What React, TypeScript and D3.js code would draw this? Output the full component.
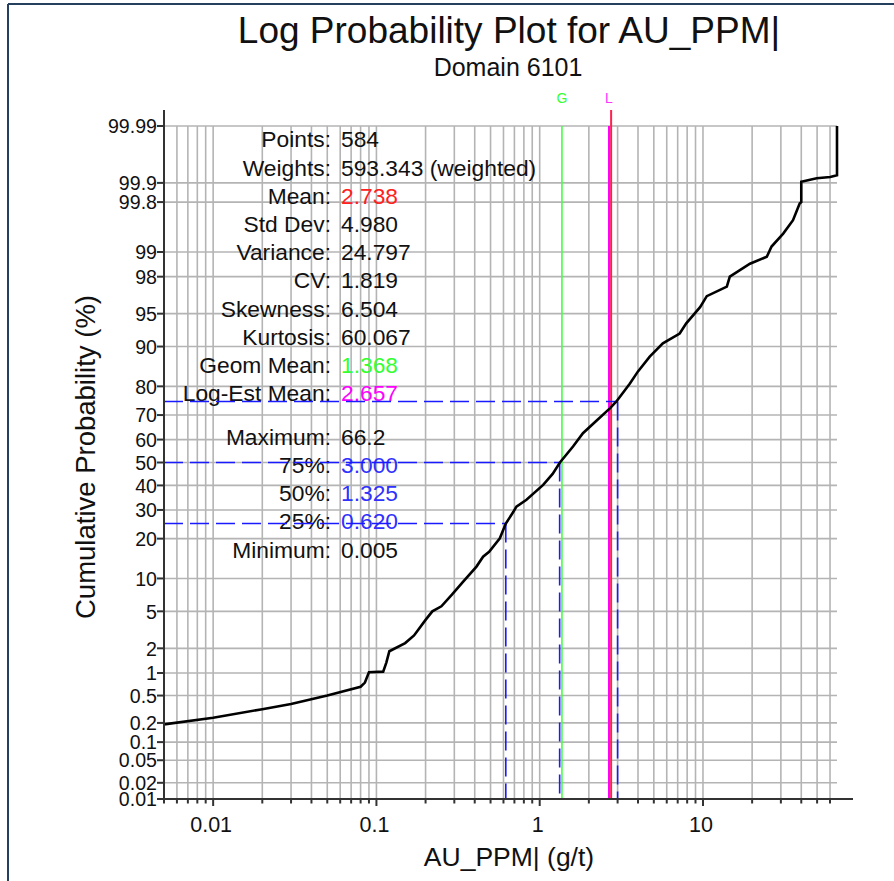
import React from 'react';
import * as d3 from 'd3';

// cumulative curve: grade (g/t) vs cumulative probability (%)
const auValues = [
  0.005, 0.01, 0.02, 0.03, 0.05, 0.08, 0.085, 0.09, 0.11, 0.115, 0.12, 0.15, 0.17, 0.2, 0.22,
  0.25, 0.29, 0.34, 0.41, 0.45, 0.49, 0.57, 0.62, 0.69, 0.72, 0.83, 1.05, 1.2, 1.33, 1.6,
  1.84, 2.2, 2.69, 2.95, 3.56, 4.0, 4.72, 5.68, 7.2, 7.9, 9.6, 10.55, 14.0, 14.6, 19.4,
  24.6, 26.3, 31.0, 35.6, 39.1, 40.0, 40.0, 49.7, 60.2, 66.2, 66.2,
];
const cumProb = [
  0.19, 0.24, 0.32, 0.38, 0.5, 0.66, 0.75, 1.02, 1.04, 1.35, 1.85, 2.3, 2.8, 4.1, 5.0,
  5.6, 7.2, 9.4, 12.5, 14.9, 16.2, 20.1, 25, 29.3, 31.3, 34, 40.2, 45, 50, 57,
  62.7, 67.5, 72.5, 75, 80.8, 84.3, 87.9, 90.6, 92.3, 93.8, 95.7, 96.7, 97.4, 98.0, 98.6,
  98.85, 99.15, 99.43, 99.63, 99.79, 99.8, 99.904, 99.916, 99.92, 99.925, 99.99,
];

const probTicks = [0.01, 0.02, 0.05, 0.1, 0.2, 0.5, 1, 2, 5, 10, 20, 30, 40, 50, 60, 70, 80, 90, 95, 98, 99, 99.8, 99.9, 99.99];
const gradeMajor = [0.01, 0.1, 1, 10];

const statLabels = ['Points:', 'Weights:', 'Mean:', 'Std Dev:', 'Variance:', 'CV:', 'Skewness:', 'Kurtosis:', 'Geom Mean:', 'Log-Est Mean:', 'Maximum:', '75%:', '50%:', '25%:', 'Minimum:'];
const statValues = ['584', '593.343 (weighted)', '2.738', '4.980', '24.797', '1.819', '6.504', '60.067', '1.368', '2.657', '66.2', '3.000', '1.325', '0.620', '0.005'];
const statColors = ['#111', '#111', '#ff2020', '#111', '#111', '#111', '#111', '#111', '#33ff33', '#ff00ff', '#111', '#3030ff', '#3030ff', '#3030ff', '#111'];

const minGrade = 0.005;
const maxGrade = 66.2;
const meanGrade = 2.738;
const geomMean = 1.368;
const logEstMean = 2.657;
// [cumulative %, grade]
const quartiles: [number, number][] = [[75, 3.0], [50, 1.325], [25, 0.62]];

// inverse normal cdf (Acklam)
function probit(p: number) {
  const a = [-39.69683028665376, 220.9460984245205, -275.9285104469687, 138.357751867269, -30.66479806614716, 2.506628277459239];
  const b = [-54.47609879822406, 161.5858368580409, -155.6989798598866, 66.80131188771972, -13.28068155288572];
  const c = [-0.007784894002430293, -0.3223964580411365, -2.400758277161838, -2.549732539343734, 4.374664141464968, 2.938163982698783];
  const d = [0.007784695709041462, 0.3224671290700398, 2.445134137142996, 3.754408661907416];
  const pl = 0.02425;
  if (p < pl) {
    const q = Math.sqrt(-2 * Math.log(p));
    return (((((c[0] * q + c[1]) * q + c[2]) * q + c[3]) * q + c[4]) * q + c[5]) / ((((d[0] * q + d[1]) * q + d[2]) * q + d[3]) * q + 1);
  }
  if (p <= 1 - pl) {
    const q = p - 0.5, r = q * q;
    return (((((a[0] * r + a[1]) * r + a[2]) * r + a[3]) * r + a[4]) * r + a[5]) * q / (((((b[0] * r + b[1]) * r + b[2]) * r + b[3]) * r + b[4]) * r + 1);
  }
  const q = Math.sqrt(-2 * Math.log(1 - p));
  return -(((((c[0] * q + c[1]) * q + c[2]) * q + c[3]) * q + c[4]) * q + c[5]) / ((((d[0] * q + d[1]) * q + d[2]) * q + d[3]) * q + 1);
}

const left = 164, right = 837, top = 126, bottom = 799;
const font = '"Liberation Sans", Arial, sans-serif';

export default function App() {
  const x = d3.scaleLog().domain([minGrade, maxGrade]).range([left, right]);
  const zScale = d3.scaleLinear().domain([probit(0.0001), probit(0.9999)]).range([bottom, top]);
  const y = (p: number) => zScale(probit(p / 100));

  const gridX: number[] = [];
  for (let k = -3; k <= 1; k++) {
    for (let m = 1; m <= 9; m++) {
      const v = +(m * Math.pow(10, k)).toPrecision(3);
      if (v >= minGrade * 0.999 && v <= maxGrade) gridX.push(v);
    }
  }

  const line = d3.line<number>()
    .x((_, i) => x(auValues[i]))
    .y((_, i) => y(cumProb[i]));

  const rowY = (i: number) => 147.3 + 28.2 * (i < 10 ? i : i + 0.55);
  const dash = '19,7';

  return (
    <svg width={894} height={881} style={{ position: 'absolute', left: 0, top: 0, background: '#fff' }} fontFamily={font}>
      <rect x={0} y={0} width={894} height={881} fill="#fff" />
      {/* frame */}
      <line x1={8} x2={894} y1={4} y2={4} stroke="#24405e" strokeWidth={2} />
      <line x1={8} x2={8} y1={4} y2={881} stroke="#24405e" strokeWidth={2} />

      <text x={509} y={43} textAnchor="middle" fontSize={37} fill="#111">Log Probability Plot for AU_PPM|</text>
      <text x={508} y={76} textAnchor="middle" fontSize={25} fill="#111">Domain 6101</text>

      {/* grid */}
      <g stroke="#b4b4b4" strokeWidth={1.6}>
        {gridX.map(v => (
          <line key={'gx' + v} x1={x(v)} x2={x(v)} y1={top} y2={bottom} />
        ))}
        {probTicks.map(p => (
          <line key={'gy' + p} x1={left} x2={right} y1={y(p)} y2={y(p)} />
        ))}
      </g>

      {/* stats */}
      <g fontSize={22.8}>
        {statLabels.map((s, i) => (
          <text key={'l' + i} x={331} y={rowY(i)} textAnchor="end" fill="#111">{s}</text>
        ))}
        {statValues.map((s, i) => (
          <text key={'v' + i} x={341} y={rowY(i)} fill={statColors[i]}>{s}</text>
        ))}
      </g>

      {/* mean markers */}
      <line x1={x(geomMean)} x2={x(geomMean)} y1={top} y2={bottom} stroke="#44ff44" strokeWidth={1.6} />
      <line x1={x(logEstMean)} x2={x(logEstMean)} y1={top} y2={bottom} stroke="#ff00ff" strokeWidth={2} />
      <line x1={x(meanGrade)} x2={x(meanGrade)} y1={110} y2={bottom} stroke="#ff2050" strokeWidth={2} />
      <text x={x(geomMean)} y={103} textAnchor="middle" fontSize={14} fill="#33ff33">G</text>
      <text x={x(logEstMean)} y={103} textAnchor="middle" fontSize={14} fill="#ff33ff">L</text>

      {/* quartile guides */}
      <g stroke="#1a1aff" strokeWidth={1.6} strokeDasharray={dash} fill="none">
        {quartiles.map(([p, v]) => (
          <g key={'q' + p}>
            <line x1={left} x2={x(v)} y1={y(p)} y2={y(p)} />
            <line x1={x(v)} x2={x(v)} y1={y(p)} y2={bottom} />
          </g>
        ))}
      </g>

      {/* curve */}
      <path d={line(auValues) || ''} fill="none" stroke="#000" strokeWidth={2.6} strokeLinejoin="miter" />

      {/* axes */}
      <g stroke="#333" strokeWidth={2}>
        <line x1={left} x2={left} y1={110} y2={bottom + 1} />
        <line x1={left - 1} x2={853} y1={bottom} y2={bottom} />
        {probTicks.map(p => (
          <line key={'ty' + p} x1={left - 7} x2={left} y1={y(p)} y2={y(p)} />
        ))}
        {gridX.map(v => (
          <line key={'tx' + v} x1={x(v)} x2={x(v)} y1={bottom} y2={bottom + (gradeMajor.includes(v) ? 7 : 4.5)} />
        ))}
      </g>
      <g fill="#111">
        {probTicks.map(p => (
          <text key={'ly' + p} x={157} y={y(p) + 7.2} textAnchor="end" fontSize={19.6}>{String(p)}</text>
        ))}
        {gradeMajor.map(v => (
          <text key={'lx' + v} x={x(v) - 2} y={832} textAnchor="middle" fontSize={21.5}>{String(v)}</text>
        ))}
      </g>

      <text x={509} y={866} textAnchor="middle" fontSize={26.5} fill="#111">AU_PPM| (g/t)</text>
      <text transform={`translate(95,${457}) rotate(-90)`} textAnchor="middle" fontSize={27.5} fill="#111">Cumulative Probability (%)</text>
    </svg>
  );
}
